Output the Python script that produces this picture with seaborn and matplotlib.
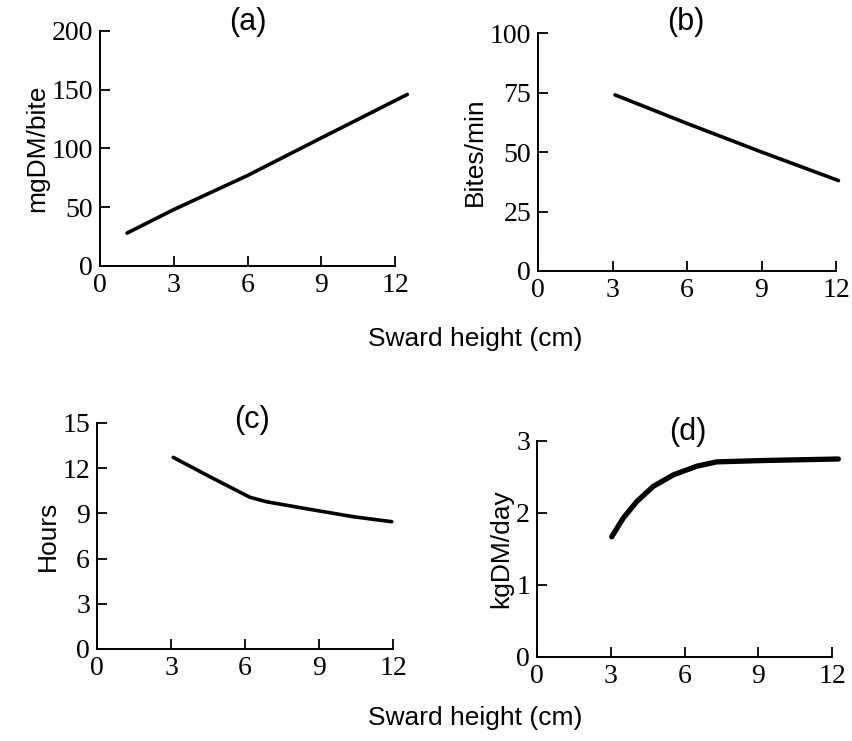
import matplotlib
matplotlib.use("Agg")
import matplotlib.pyplot as plt
import seaborn as sns
import pandas as pd

# ---- data ----
a_height = [1.1, 3.0, 6.0, 9.0, 12.5]
a_bite_mass = [28, 48, 77, 109, 146]

b_height = [3.1, 6.0, 9.0, 12.1]
b_bite_rate = [74, 62, 50, 38]

c_height = [3.09, 4.58, 6.2, 6.88, 8.63, 10.39, 11.95]
c_hours = [12.72, 11.43, 10.07, 9.77, 9.27, 8.78, 8.45]

d_height = [3.04, 3.51, 4.06, 4.73, 5.55, 6.5, 7.31, 9.35, 12.26]
d_intake = [1.67, 1.93, 2.16, 2.37, 2.53, 2.65, 2.71, 2.73, 2.75]

x_ticks = [0, 3, 6, 9, 12]
a_yticks = [0, 50, 100, 150, 200]
b_yticks = [0, 25, 50, 75, 100]
c_yticks = [0, 3, 6, 9, 12, 15]
d_yticks = [0, 1, 2, 3]

titles = ["(a)", "(b)", "(c)", "(d)"]
ylabels = ["mgDM/bite", "Bites/min", "Hours", "kgDM/day"]
xlabel = "Sward height (cm)"

sns.set_style("ticks")
plt.rcParams["font.family"] = ["Liberation Sans", "DejaVu Sans"]
plt.rcParams["text.color"] = "black"
plt.rcParams["axes.labelcolor"] = "black"
plt.rcParams["xtick.color"] = "black"
plt.rcParams["ytick.color"] = "black"

W, H = 852, 741
fig = plt.figure(figsize=(W / 100, H / 100), dpi=100)

def rect(l, r, t, b):
    return [l / W, (H - b) / H, (r - l) / W, (b - t) / H]

panels = [
    dict(pos=rect(100, 395, 31, 266), x=a_height, y=a_bite_mass, yt=a_yticks, lw=2.6,
         title_xy=(248, 22)),
    dict(pos=rect(538, 836, 33, 271), x=b_height, y=b_bite_rate, yt=b_yticks, lw=2.6,
         title_xy=(686, 22)),
    dict(pos=rect(97, 393, 423, 649), x=c_height, y=c_hours, yt=c_yticks, lw=2.6,
         title_xy=(252, 420)),
    dict(pos=rect(537, 832, 441, 657), x=d_height, y=d_intake, yt=d_yticks, lw=3.8,
         title_xy=(688, 432)),
]

tick_font = dict(family=["Liberation Serif", "DejaVu Serif"], size=20)

for i, p in enumerate(panels):
    ax = fig.add_axes(p["pos"])
    df = pd.DataFrame({"h": p["x"], "v": p["y"]})
    sns.lineplot(data=df, x="h", y="v", ax=ax, color="black", lw=p["lw"],
                 solid_capstyle="round", solid_joinstyle="round", clip_on=False)
    ax.set_xlim(0, 12)
    ax.set_ylim(p["yt"][0], p["yt"][-1])
    ax.set_xticks(x_ticks)
    ax.set_yticks(p["yt"])
    ax.set_xticklabels([str(t) for t in x_ticks], fontdict=tick_font)
    ax.set_yticklabels([str(t) for t in p["yt"]], fontdict=tick_font)
    ax.tick_params(axis="both", direction="in", length=7, width=1.3, color="black",
                   labelcolor="black", pad=5)
    for s in ["top", "right"]:
        ax.spines[s].set_visible(False)
    for s in ["left", "bottom"]:
        ax.spines[s].set_linewidth(1.4)
        ax.spines[s].set_color("black")
    ax.set_xlabel("")
    ax.set_ylabel(ylabels[i], fontsize=19, color="black", labelpad=2)
    tx, ty = p["title_xy"]
    fig.text(tx / W, 1 - ty / H, titles[i], ha="center", va="center", fontsize=22,
             color="black")

fig.text(475 / W, 1 - 339 / H, xlabel, ha="center", va="center", fontsize=19,
         color="black")
fig.text(475 / W, 1 - 718 / H, xlabel, ha="center", va="center", fontsize=19,
         color="black")

fig.savefig("out.png", dpi=100, facecolor="white")
